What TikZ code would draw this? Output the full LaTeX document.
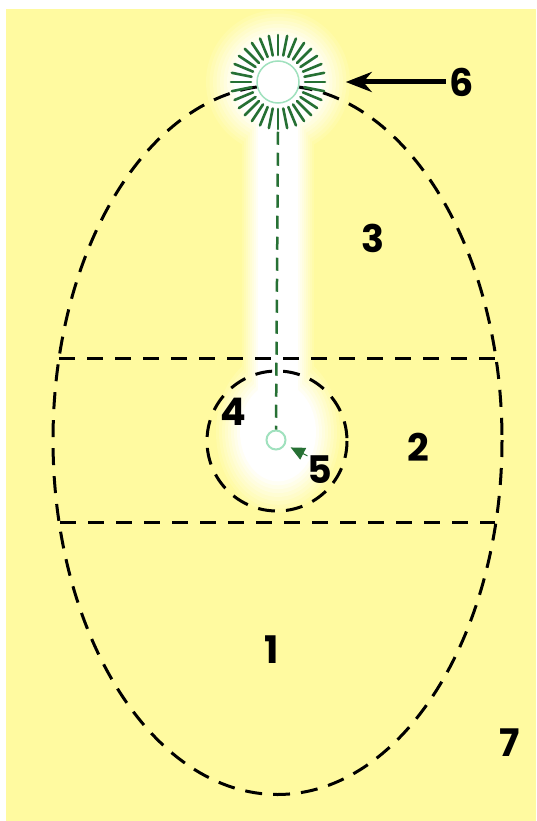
\documentclass[tikz,border=0pt]{standalone}
\usepackage{fontspec}
\newfontfamily\digitfont{Poppins}
\usepackage{xcolor}
\usetikzlibrary{arrows.meta, positioning, calc}

\definecolor{paper}{RGB}{255,250,160}
\definecolor{raygreen}{RGB}{38,112,52}
\definecolor{palegreen}{RGB}{160,225,190}

\begin{document}
\begin{tikzpicture}[x=1pt, y=-1pt,
  num/.style={font=\digitfont\bfseries\fontsize{38}{38}\selectfont, inner sep=0pt},
  egg/.style={draw=black, line width=3pt, dash pattern=on 17pt off 11pt},
  zone/.style={draw=black, line width=3pt, dash pattern=on 16pt off 12pt},
  axisline/.style={draw=raygreen, line width=2.5pt, dash pattern=on 13pt off 8pt},
  ray/.style={raygreen, line width=2.6pt, line cap=round},
  arr/.style={-{Stealth[length=26pt, width=20pt]}, line width=5pt, black},
  smallarr/.style={-{Triangle[length=14pt, width=13pt]}, line width=1pt, raygreen},
]
\useasboundingbox (0,0) rectangle (536,821);
\fill[paper] (6,9) rectangle (536,821);
%
% ====== GLOW (one level of whiteness at a time) ======
\foreach \k in {1,...,16} {
  \pgfmathtruncatemacro\w{min(100,100*\k/9)}
  \fill[white!\w!paper] (278-38+2*\k,100) rectangle (278+38-2*\k,400);
  \fill[white!\w!paper] (278,82) circle (75.5-3.5*\k);
  \fill[white!\w!paper] (278,432) ellipse [x radius=65-3*\k, y radius=1.3*(65-3*\k)];
}
%
% ====== SHELLS ======
\path[egg] (277.5,440) ellipse [x radius=224.5, y radius=354.5];
\draw[zone] (59,358) -- (496,358);
\draw[zone] (60,522) -- (495,522);
\path[egg] (277,441) circle (70);
%
% ====== SUN AND CORE ======
\node[circle, draw=palegreen, line width=1.5pt, fill=white, minimum size=42pt,
  inner sep=0pt] (sun) at (278,82) {};
\foreach \a in {0,11.25,...,359} {
  \draw[ray] ($(sun.center)+(\a:27)$) -- ($(sun.center)+(\a:47)$);
}
\node[circle, draw=palegreen, line width=2pt, fill=white, minimum size=19pt,
  inner sep=0pt] (core) at (276,440) {};
\draw[axisline] ($(sun.south)+(0,28)$) -- (core.north);
%
% ====== LABELS ======
\node[num] (one) at (272,650) {1};
\node[num] (two) at (418,447) {2};
\node[num] (three) at (373,238) {3};
\node[num] (four) at (233,412) {4};
\node[num] (five) at (320,470) {5};
\node[num] (six) at (462,82) {6};
\node[num] (seven) at (510,743) {7};
\draw[arr] (six.west) ++(-4,0) -- ($(sun.east)+(46,0)$);
\draw[smallarr] (five.north west) -- (core) [shorten >=6pt];
\end{tikzpicture}
\end{document}
